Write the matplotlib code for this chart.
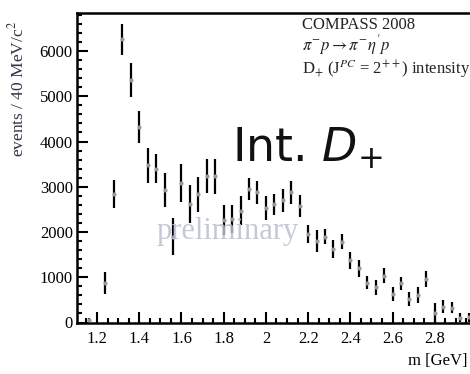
import matplotlib
matplotlib.use("Agg")
import matplotlib.pyplot as plt
from matplotlib.ticker import MultipleLocator

# bin centres (GeV), intensity and error
mass = [1.16, 1.24, 1.28, 1.32, 1.36, 1.40, 1.44, 1.48, 1.52, 1.56,
        1.60, 1.64, 1.68, 1.72, 1.76, 1.80, 1.84, 1.88, 1.92, 1.96,
        2.00, 2.04, 2.08, 2.12, 2.16, 2.20, 2.24, 2.28, 2.32, 2.36,
        2.40, 2.44, 2.48, 2.52, 2.56, 2.60, 2.64, 2.68, 2.72, 2.76,
        2.80, 2.84, 2.88, 2.92, 2.96]
intensity = [50, 870, 2840, 6260, 5350, 4320, 3470, 3400, 2930, 1900,
             3080, 2610, 2830, 3240, 3230, 2265, 2290, 2470, 2950, 2880,
             2530, 2610, 2700, 2880, 2570, 1950, 1805, 1900, 1625, 1790,
             1375, 1195, 880, 780, 1030, 635, 865, 520, 610, 965,
             215, 350, 330, 110, 115]
error = [50, 240, 300, 345, 375, 360, 390, 325, 380, 415,
         415, 420, 385, 380, 385, 340, 310, 320, 250, 255,
         275, 240, 255, 255, 240, 200, 245, 175, 190, 175,
         185, 185, 150, 170, 165, 155, 150, 160, 175, 175,
         215, 145, 130, 95, 100]

legend_lines = ["COMPASS 2008",
                r"$\pi^{-}p \rightarrow \pi^{-}\eta^{\prime}p$",
                r"D$_{+}$ (J$^{PC}$ = 2$^{++}$) intensity"]

plt.rcParams["font.family"] = ["Liberation Serif", "DejaVu Serif"]
plt.rcParams["mathtext.fontset"] = "stix"

W, H = 470, 374
fig = plt.figure(figsize=(W / 100, H / 100), dpi=100)
# axes runs a little past the right edge of the picture, like the reference
ax = fig.add_axes([77 / W, (H - 322.5) / H, 400 / W, 309.5 / H])

ax.errorbar(mass, intensity, yerr=error, fmt="o", ms=2, mfc="#999999",
            mec="#999999", ecolor="black", elinewidth=1.6, capsize=0, zorder=3)

ax.set_xlim(1.105, 3.0)
ax.set_ylim(0, 6840)
ax.xaxis.set_major_locator(MultipleLocator(0.2))
ax.xaxis.set_minor_locator(MultipleLocator(0.05))
ax.yaxis.set_major_locator(MultipleLocator(1000))
ax.yaxis.set_minor_locator(MultipleLocator(200))
ax.set_xticks([1.2, 1.4, 1.6, 1.8, 2.0, 2.2, 2.4, 2.6, 2.8])
ax.set_xticklabels(["1.2", "1.4", "1.6", "1.8", "2", "2.2", "2.4", "2.6", "2.8"])

ax.tick_params(which="both", direction="in", top=False, right=False, width=1.5)
ax.tick_params(which="major", length=8, labelsize=12)
ax.tick_params(which="minor", length=3.5)
ax.tick_params(axis="x", pad=6)
ax.tick_params(axis="y", pad=3)
for sp in ax.spines.values():
    sp.set_linewidth(1.8)

ax.set_ylabel("events / 40 MeV/c$^{2}$", fontsize=12.5, color="#333344", loc="top")
ax.yaxis.set_label_coords(-0.125, 0.975)
ax.set_xlabel("m [GeV]", fontsize=12, loc="right")
ax.xaxis.set_label_coords(0.9775, -0.10)

for i, line in enumerate(legend_lines):
    fig.text(302 / W, [0.932, 0.880, 0.817][i], line, fontsize=12,
             va="center", ha="left", color="#222222")

fig.text(232 / W, (H - 162) / H, r"Int. $D_{+}$", fontsize=33,
         family="DejaVu Sans", math_fontfamily="dejavusans",
         color="#111111", va="baseline", ha="left")

fig.text(228 / W, (H - 232) / H, "preliminary", fontsize=22,
         color="#b8bfd0", alpha=0.85, ha="center", va="center", zorder=0)

fig.savefig("out.png", dpi=100)
